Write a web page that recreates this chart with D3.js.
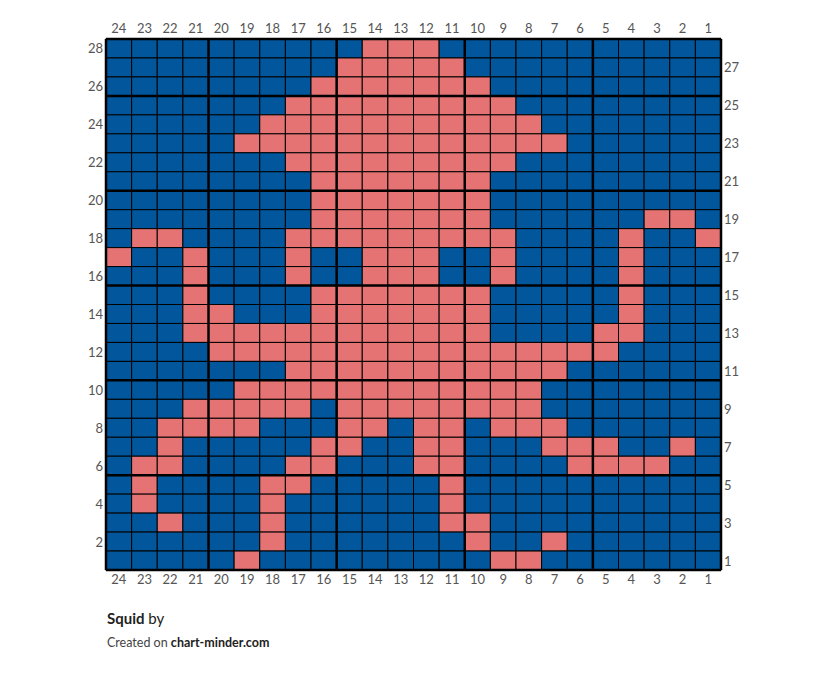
<!DOCTYPE html>
<html>
<head>
<meta charset="utf-8">
<script src="https://cdn.jsdelivr.net/npm/d3@7"></script>
<style>
  body { margin: 0; background: #fff; }
  text { font-family: Lato, "Open Sans", sans-serif; }
</style>
</head>
<body>
<svg></svg>
<script>
let width = 827;
let height = 674;

// column labels left to right, row labels top to bottom
let colLabels = d3.range(24, 0, -1);
let rowLabels = d3.range(28, 0, -1);

// rows from 28 (top) down to 1, B = blue, P = pink, left col is 24
let rows = [
  'BBBBBBBBBBPPPBBBBBBBBBBB',
  'BBBBBBBBBPPPPPBBBBBBBBBB',
  'BBBBBBBBPPPPPPPBBBBBBBBB',
  'BBBBBBBPPPPPPPPPBBBBBBBB',
  'BBBBBBPPPPPPPPPPPBBBBBBB',
  'BBBBBPPPPPPPPPPPPPBBBBBB',
  'BBBBBBBPPPPPPPPPBBBBBBBB',
  'BBBBBBBBPPPPPPPBBBBBBBBB',
  'BBBBBBBBPPPPPPPBBBBBBBBB',
  'BBBBBBBBPPPPPPPBBBBBBPPB',
  'BPPBBBBPPPPPPPPPBBBBPBBP',
  'PBBPBBBPBBPPPBBPBBBBPBBB',
  'BBBPBBBPBBPPPBBPBBBBPBBB',
  'BBBPBBBBPPPPPPPBBBBBPBBB',
  'BBBPPBBBPPPPPPPBBBBBPBBB',
  'BBBPPPPPPPPPPPPBBBBPPBBB',
  'BBBBPPPPPPPPPPPPPPPPBBBB',
  'BBBBBBBPPPPPPPPPPPBBBBBB',
  'BBBBBPPPPPPPPPPPPBBBBBBB',
  'BBBPPPPPBPPPPPPPPBBBBBBB',
  'BBPPPPBBBPPBPPBPPPBBBBBB',
  'BBPBBBBBPPBBPPBBBPPPBBPB',
  'BPPBBBBPPBBBPPBBBBPPPPBB',
  'BPBBBBPPBBBBBPBBBBBBBBBB',
  'BPBBBBPBBBBBBPBBBBBBBBBB',
  'BBPBBBPBBBBBBPPBBBBBBBBB',
  'BBBBBBPBBBBBBBPBBPBBBBBB',
  'BBBBBPBBBBBBBBBPPBBBBBBB'
];

let colours = { B: '#02569b', P: '#e57373' };

let gridLeft = 106, gridRight = 721, gridTop = 39, gridBottom = 570;

let x = d3.scaleBand().domain(colLabels).range([gridLeft, gridRight]);
let y = d3.scaleBand().domain(rowLabels).range([gridTop, gridBottom]);

let cells = [];
rows.forEach((r, i) => r.split('').forEach((c, j) => {
  cells.push({ row: rowLabels[i], col: colLabels[j], c: c });
}));

let svg = d3.select('svg')
  .attr('width', width)
  .attr('height', height);

svg.selectAll('.cell')
  .data(cells)
  .enter()
  .append('rect')
    .attr('x', d => x(d.col))
    .attr('y', d => y(d.row))
    .attr('width', x.bandwidth())
    .attr('height', y.bandwidth())
    .attr('fill', d => colours[d.c])
    .attr('stroke', '#000')
    .attr('stroke-width', 1);

// heavier lines every 5 stitches / rows, counted from bottom right
let vLines = d3.range(0, 25).filter(k => k % 5 === 0 || k === 24);
svg.selectAll('.vline')
  .data(vLines)
  .enter()
  .append('line')
    .attr('x1', k => gridRight - k * x.bandwidth())
    .attr('x2', k => gridRight - k * x.bandwidth())
    .attr('y1', gridTop)
    .attr('y2', gridBottom)
    .attr('stroke', '#000')
    .attr('stroke-width', 2.5);

let hLines = d3.range(0, 29).filter(k => k % 5 === 0 || k === 28);
svg.selectAll('.hline')
  .data(hLines)
  .enter()
  .append('line')
    .attr('y1', k => gridBottom - k * y.bandwidth())
    .attr('y2', k => gridBottom - k * y.bandwidth())
    .attr('x1', gridLeft)
    .attr('x2', gridRight)
    .attr('stroke', '#000')
    .attr('stroke-width', 2.5);

let labelColour = '#555';

svg.selectAll('.toplab')
  .data(colLabels)
  .enter()
  .append('text')
    .attr('x', d => x(d) + x.bandwidth() / 2)
    .attr('y', gridTop - 6)
    .style('text-anchor', 'middle')
    .style('font-size', '13px')
    .attr('fill', labelColour)
    .text(d => d);

svg.selectAll('.bottomlab')
  .data(colLabels)
  .enter()
  .append('text')
    .attr('x', d => x(d) + x.bandwidth() / 2)
    .attr('y', gridBottom + 14)
    .style('text-anchor', 'middle')
    .style('font-size', '13px')
    .attr('fill', labelColour)
    .text(d => d);

svg.selectAll('.leftlab')
  .data(rowLabels.filter(d => d % 2 === 0))
  .enter()
  .append('text')
    .attr('x', gridLeft - 3)
    .attr('y', d => y(d) + y.bandwidth() / 2 + 5)
    .style('text-anchor', 'end')
    .style('font-size', '13px')
    .attr('fill', labelColour)
    .text(d => d);

svg.selectAll('.rightlab')
  .data(rowLabels.filter(d => d % 2 === 1))
  .enter()
  .append('text')
    .attr('x', gridRight + 3)
    .attr('y', d => y(d) + y.bandwidth() / 2 + 5)
    .style('text-anchor', 'start')
    .style('font-size', '13px')
    .attr('fill', labelColour)
    .text(d => d);

let title = svg.append('text')
  .attr('x', 107)
  .attr('y', 624)
  .style('font-size', '15px')
  .attr('fill', '#222');
title.append('tspan').style('font-weight', 'bold').text('Squid');
title.append('tspan').text(' by');

let credit = svg.append('text')
  .attr('x', 107)
  .attr('y', 647)
  .style('font-size', '12.5px')
  .attr('fill', '#444');
credit.append('tspan').text('Created on ');
credit.append('tspan').style('font-weight', 'bold').attr('fill', '#222').text('chart-minder.com');
</script>
</body>
</html>
